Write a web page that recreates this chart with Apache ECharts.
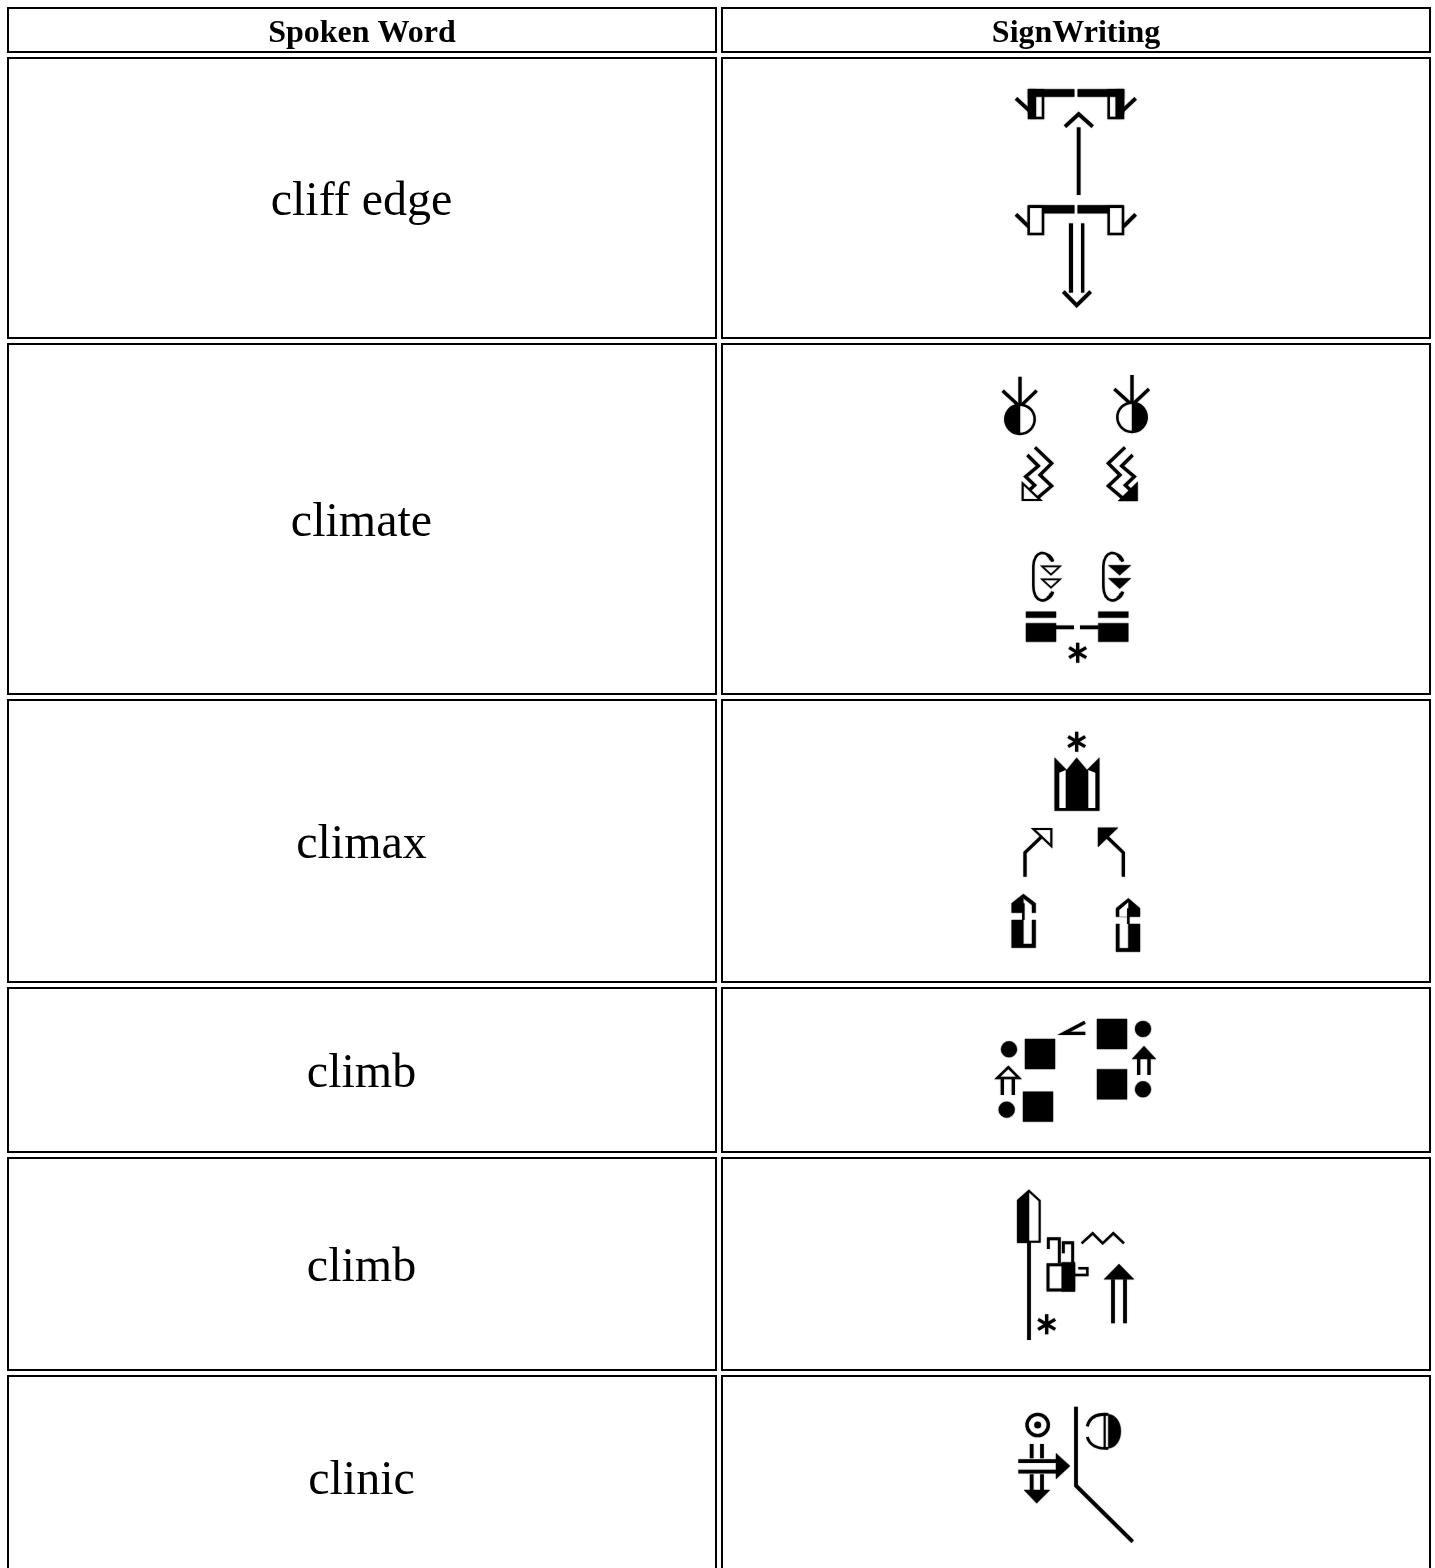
<!DOCTYPE html>
<html><head><meta charset="utf-8">
<style>html,body{margin:0;padding:0;background:#fff}#c{width:1435px;height:1568px}</style>
<script src="https://cdn.jsdelivr.net/npm/echarts@6/dist/echarts.min.js"></script>
</head><body><div id="c"></div>
<script>
const headers = ['Spoken Word', 'SignWriting'];
const words = ['cliff edge', 'climate', 'climax', 'climb', 'climb', 'clinic'];
const columnWidths = [708, 708];
const headerHeight = 44;
const rowHeights = [280, 350, 282, 164, 212, 202];
const cellGap = 6;

const strokeBoost = 1.25;
const s = (d, w) => ({d, w: w * strokeBoost, fill: 'none', stroke: '#000'});
const f = d => ({d, w: 1, fill: '#000', stroke: '#000'});
const o = (d, w) => ({d, w: w * strokeBoost, fill: '#fff', stroke: '#000'});
const star = (x, y, r) => s(`M${x},${y-r}L${x},${y+r}M${x-r*.85},${y-r*.5}L${x+r*.85},${y+r*.5}M${x+r*.85},${y-r*.5}L${x-r*.85},${y+r*.5}`, 8);

const glyphCliffEdge = [
  s('M168,85L208,122', 9), s('M527,85L488,122', 9),
  o('M207,61H249V144H207Z', 6), o('M446,61H489V144H446Z', 6),
  f('M205,58H228V145H213L205,130Z'), f('M467,58H492V130L484,145H467Z'),
  f('M205,58H343V80H205Z'), f('M353,58H492V80H353Z'),
  s('M315,170L356,132L398,170', 9), s('M356,172V375', 9),
  s('M168,433L206,470', 9), s('M527,433L490,470', 9),
  o('M206,410H249V492H206Z', 6), o('M446,410H489V492H446Z', 6),
  f('M205,406H343V430H250V410H205Z'), f('M353,406H490V410H445V430H353Z'),
  s('M333,460V668', 10), s('M368,460V668', 8),
  s('M310,665L350,706L392,665', 9)
];

const glyphClimate = [
  s('M180,50V135M128,92L180,140M230,92L180,140', 8),
  o('M136,178A44,44 0 1 1 224,178A44,44 0 1 1 136,178Z', 6),
  f('M180,134A44,44 0 0 0 180,222Z'),
  s('M516,45V130M463,87L516,135M567,87L516,135', 8),
  o('M472,172A44,44 0 1 1 560,172A44,44 0 1 1 472,172Z', 6),
  f('M516,128A44,44 0 0 1 516,216Z'),
  s('M225,262L275,310L240,345L275,378L228,418', 8),
  s('M202,285L235,318L197,350L224,376L203,395', 8),
  o('M188,370V420H241Z', 5),
  s('M495,262L445,310L480,345L445,378L492,418', 8),
  s('M518,285L485,318L523,350L496,376L517,395', 8),
  f('M533,365V423H474Z'),
  s('M273,600C262,568 222,570 220,620V680C222,730 262,732 273,700', 6),
  s('M262,585Q274,590 278,605M262,715Q274,710 278,695', 8),
  o('M246,619H300L273,644Z', 4), o('M246,658H300L273,683Z', 4),
  s('M483,600C472,568 432,570 430,620V680C432,730 472,732 483,700', 6),
  s('M472,585Q484,590 488,605M472,715Q484,710 488,695', 8),
  f('M445,616H513L479,646Z'), f('M445,655H513L479,686Z'),
  f('M198,755H288V773H198Z'), f('M415,755H505V773H415Z'),
  f('M198,790H288V845H198Z'), f('M415,790H505V845H415Z'),
  s('M288,802H342', 9), s('M360,802H415', 9),
  star(353, 878, 30)
];

const glyphClimax = [
  star(350, 65, 30),
  f('M284,113L320,150L350,113L381,150L418,113V272H284Z'),
  {d: 'M298,158L317,150V264H298Z', w: 0, fill: '#fff', stroke: 'none'},
  {d: 'M385,150L406,158V264H385Z', w: 0, fill: '#fff', stroke: 'none'},
  o('M220,327H274V378Z', 5), s('M195,470V398L245,350', 8),
  f('M414,323H474L414,381Z'), s('M490,470V398L438,348', 8),
  f('M155,578V550L190,522L227,550V578H216V555L190,535V578Z'),
  s('M190,550V600', 6),
  f('M155,600H190V672H216V600H227V683H155Z'),
  f('M468,590V565L505,535L540,565V590Z'),
  {d: 'M478,590V570L505,547V590Z', w: 0, fill: '#fff', stroke: 'none'},
  s('M505,565V612', 6),
  f('M468,612H478V685H505V612H540V695H468Z')
];

const disc = (x, y, r) => f(`M${x-r},${y}A${r},${r} 0 1 1 ${x+r},${y}A${r},${r} 0 1 1 ${x-r},${y}Z`);

const glyphClimbTwoHands = [
  f('M195,102H285V192H195Z'), f('M189,260H279V350H189Z'),
  f('M411,42H501V132H411Z'), f('M411,193H501V283H411Z'),
  disc(147, 133, 24), disc(140, 314, 24), disc(549, 72, 24), disc(549, 253, 24),
  o('M112,219L145,187L177,219Z', 6), s('M127,222V270M160,222V270', 8),
  f('M516,162L552,123L588,162Z'), s('M536,162V210M567,162V210', 8),
  s('M375,52L312,85H376', 8)
];

const glyphClimbOneHand = [
  s('M147,200V495', 9),
  o('M115,77L147,48L179,77V200H115Z', 5), f('M112,75L147,45V203H112Z'),
  o('M204,269H281V345H204Z', 7), f('M245,262H285V349H245Z'),
  s('M238,265V191H205V222', 7), s('M278,265V203H250V235', 7),
  s('M283,300H322V280H295', 6),
  s('M305,205L338,175L368,205L400,175L432,205', 6),
  f('M372,313L417,267L462,313Z'), s('M399,313V445M435,313V445', 9),
  star(200, 448, 30)
];

const glyphClinic = [
  s('M141,90A32,32 0 1 1 205,90A32,32 0 1 1 141,90Z', 8),
  disc(173, 90, 10),
  s('M155,147V190M186,147V190M155,238V285M186,238V285', 9),
  f('M132,285H210L170,325Z'),
  s('M115,198H232M115,230H232', 9),
  f('M228,175L270,213L228,252Z'),
  s('M288,35V272L458,440', 9),
  f('M385,58C435,62 435,156 385,160Z'),
  s('M374,58V160', 5),
  s('M322,94C328,66 352,56 385,58M322,126C328,150 352,162 385,160', 7)
];

const glyphs = [glyphCliffEdge, glyphClimate, glyphClimax, glyphClimbTwoHands, glyphClimbOneHand, glyphClinic];
// offset of each glyph's drawing origin from the centre of its cell, and its units per pixel
const glyphOrigins = [[-116,-128],[-116,-159],[-116,-121],[-116,-65],[-96,-89],[-96,-82]];
const glyphUnits = 3;

const rowSizes = [headerHeight, ...rowHeights];
const tableLeft = 8, tableTop = 8;
const cells = [];
rowSizes.forEach((h, r) => columnWidths.forEach((w, c) => cells.push([c, r])));
const colStart = c => tableLeft + columnWidths.slice(0, c).reduce((a, b) => a + b + cellGap, 0);
const rowStart = r => tableTop + rowSizes.slice(0, r).reduce((a, b) => a + b + cellGap, 0);

function renderItem(params, api) {
  const c = api.value(0), r = api.value(1);
  const x0 = colStart(c), y0 = rowStart(r);
  const p0 = api.coord([x0, y0]);
  const p1 = api.coord([x0 + columnWidths[c], y0 + rowSizes[r]]);
  const cx = (p0[0] + p1[0]) / 2, cy = (p0[1] + p1[1]) / 2;
  const children = [{
    type: 'rect',
    shape: {x: p0[0], y: p0[1], width: p1[0] - p0[0], height: p1[1] - p0[1]},
    style: {fill: '#fff', stroke: '#000', lineWidth: 2}
  }];
  const label = r === 0 ? headers[c] : (c === 0 ? words[r - 1] : null);
  if (label) {
    children.push({
      type: 'text',
      style: {
        text: label, x: cx - (r === 0 ? 0 : 0.5), y: cy + 4,
        align: 'center', verticalAlign: 'middle', fill: '#000',
        font: (r === 0 ? 'bold 32px' : '48px') + ' "Liberation Serif", serif'
      }
    });
  }
  if (r > 0 && c === 1) {
    const org = glyphOrigins[r - 1];
    children.push({
      type: 'group',
      x: cx + org[0], y: cy + org[1],
      scaleX: 1 / glyphUnits, scaleY: 1 / glyphUnits,
      children: glyphs[r - 1].map(g => ({
        type: 'path',
        shape: {pathData: g.d},
        style: {fill: g.fill, stroke: g.stroke, lineWidth: g.w, shadowBlur: 1.5, shadowColor: 'rgba(0,0,0,0.35)'}
      }))
    });
  }
  return {type: 'group', children};
}

const chart = echarts.init(document.getElementById('c'), null, {width: 1435, height: 1568, renderer: 'canvas'});
chart.setOption({
  animation: false,
  backgroundColor: '#fff',
  grid: {left: 0, right: 0, top: 0, bottom: 0},
  xAxis: {type: 'value', min: 0, max: 1435, show: false},
  yAxis: {type: 'value', min: 0, max: 1568, inverse: true, show: false},
  series: [{type: 'custom', coordinateSystem: 'cartesian2d', clip: true, data: cells, renderItem, silent: true}]
});
</script></body></html>
